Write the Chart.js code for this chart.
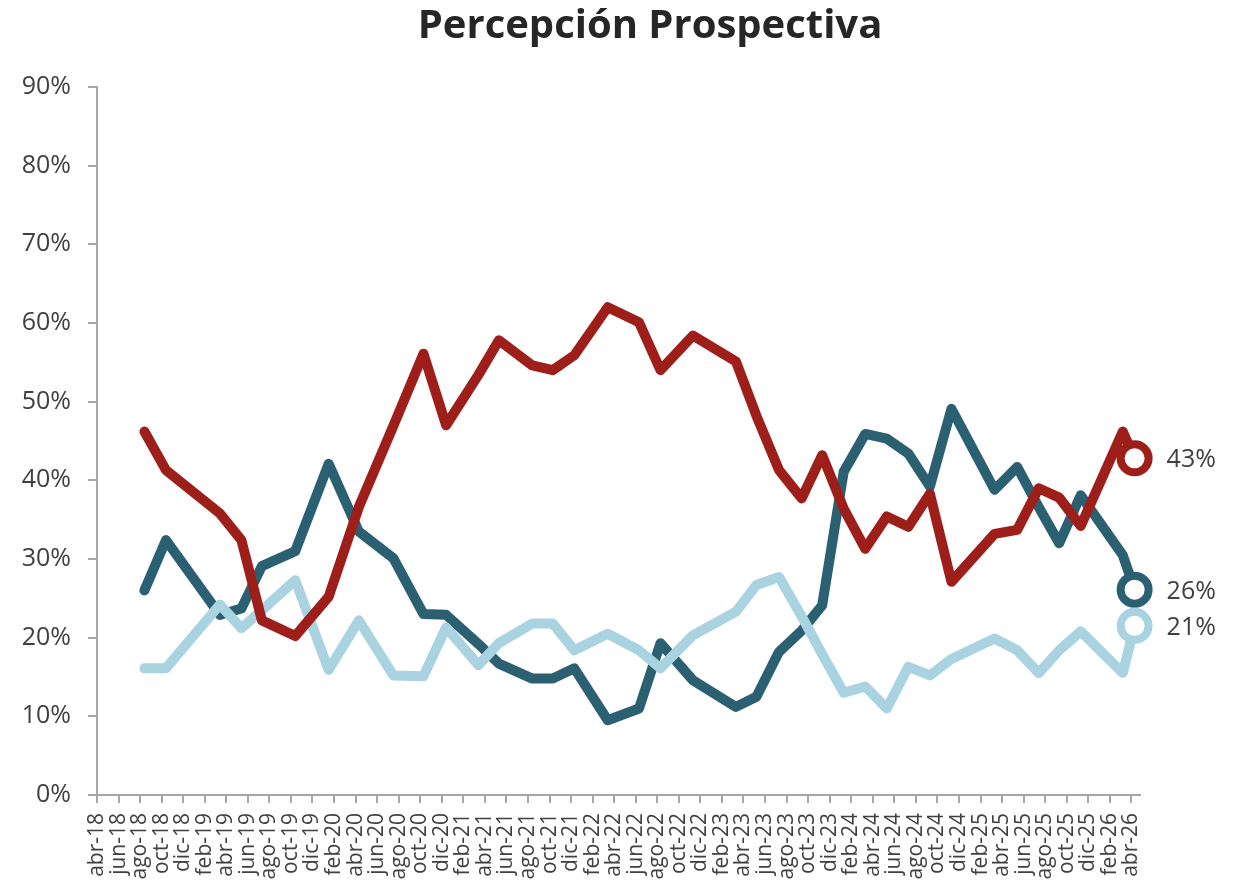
<!DOCTYPE html>
<html>
<head>
<meta charset="utf-8">
<script src="https://cdn.jsdelivr.net/npm/chart.js@4/dist/chart.umd.min.js"></script>
<style>
  html, body { margin: 0; padding: 0; background: #fff; }
  #chart { display: block; }
</style>
</head>
<body>
<canvas id="chart" width="1244" height="886"></canvas>
<script>
// x = months since abr-18 (surveys are not evenly spaced)
var surveyMonths = [4.4, 6.4, 11.4, 13.4, 15.3, 18.4, 21.5, 24.3, 27.5, 30.3, 32.4, 35.4, 37.3, 40.4, 42.3, 44.3,
  47.4, 50.3, 52.3, 55.3, 59.3, 61.2, 63.3, 65.4, 67.3, 69.3, 71.3, 73.3, 75.3, 77.3, 79.3, 83.3, 85.4, 87.4,
  89.3, 91.3, 95.2, 96.3];

var redValues = [46.2, 41.3, 35.8, 32.4, 22.2, 20.2, 25.2, 36.6, 46.9, 56.1, 47.0, 53.4, 57.8, 54.6, 54.0, 55.9,
  62.0, 60.1, 54.0, 58.4, 55.1, 48.2, 41.3, 37.7, 43.2, 36.4, 31.3, 35.4, 34.1, 38.3, 27.1, 33.2, 33.7, 39.0,
  37.8, 34.2, 46.2, 42.8];

var darkValues = [26.0, 32.4, 22.9, 23.7, 29.1, 31.0, 42.1, 33.5, 30.1, 23.0, 22.9, 19.2, 16.7, 14.8, 14.8, 16.1,
  9.5, 11.0, 19.3, 14.6, 11.2, 12.5, 18.2, 20.9, 24.1, 41.1, 45.9, 45.3, 43.4, 39.2, 49.1, 38.8, 41.7, 36.6,
  32.0, 38.1, 30.5, 26.1];

var lightValues = [16.1, 16.1, 24.2, 21.2, 23.5, 27.3, 15.9, 22.2, 15.2, 15.1, 21.3, 16.5, 19.3, 21.8, 21.8, 18.4,
  20.5, 18.4, 16.1, 20.3, 23.3, 26.7, 27.7, 22.7, 17.9, 13.0, 13.8, 11.0, 16.3, 15.2, 17.3, 19.9, 18.4, 15.5,
  18.4, 20.8, 15.5, 21.5];

var endLabels = ['43%', '21%', '26%'];

var xLabels = ['abr-18', 'jun-18', 'ago-18', 'oct-18', 'dic-18', 'feb-19', 'abr-19', 'jun-19', 'ago-19', 'oct-19',
  'dic-19', 'feb-20', 'abr-20', 'jun-20', 'ago-20', 'oct-20', 'dic-20', 'feb-21', 'abr-21', 'jun-21', 'ago-21',
  'oct-21', 'dic-21', 'feb-22', 'abr-22', 'jun-22', 'ago-22', 'oct-22', 'dic-22', 'feb-23', 'abr-23', 'jun-23',
  'ago-23', 'oct-23', 'dic-23', 'feb-24', 'abr-24', 'jun-24', 'ago-24', 'oct-24', 'dic-24', 'feb-25', 'abr-25',
  'jun-25', 'ago-25', 'oct-25', 'dic-25', 'feb-26', 'abr-26'];

var chartTitle = 'Percepción Prospectiva';

var fontFamily = '"Open Sans", "Noto Sans", sans-serif';
var axisColor = '#a6a6a6';
var textColor = '#404040';

function toPoints(values) {
  return values.map(function (v, i) {
    return { x: surveyMonths[i], y: v };
  });
}

function makeDataset(values, color) {
  return {
    data: toPoints(values),
    borderColor: color,
    borderWidth: 10,
    borderJoinStyle: 'round',
    borderCapStyle: 'round',
    tension: 0,
    clip: false,
    pointRadius: function (c) { return c.dataIndex === values.length - 1 ? 14 : 0; },
    pointBorderWidth: 8,
    pointBorderColor: color,
    pointBackgroundColor: '#ffffff',
    pointHoverRadius: 0
  };
}

// draws the value next to the last point of each line, plus the title
var labelPlugin = {
  id: 'endLabels',
  afterDatasetsDraw: function (chart) {
    var ctx = chart.ctx;
    ctx.save();
    chart.data.datasets.forEach(function (ds, i) {
      var meta = chart.getDatasetMeta(i);
      var pt = meta.data[meta.data.length - 1];
      ctx.font = '25px ' + fontFamily;
      ctx.fillStyle = textColor;
      ctx.textBaseline = 'middle';
      ctx.textAlign = 'left';
      ctx.fillText(endLabels[i], pt.x + 32, pt.y + 2);
    });
    ctx.font = 'bold 40px ' + fontFamily;
    ctx.fillStyle = '#262626';
    ctx.textAlign = 'center';
    ctx.textBaseline = 'middle';
    ctx.fillText(chartTitle, 650, 27);
    ctx.restore();
  }
};

var ctx = document.getElementById('chart').getContext('2d');
var chart = new Chart(ctx, {
  type: 'line',
  data: {
    datasets: [
      makeDataset(redValues, '#9e1f1a'),
      makeDataset(lightValues, '#a9d3e1'),
      makeDataset(darkValues, '#2b6072')
    ]
  },
  options: {
    responsive: false,
    animation: false,
    layout: { padding: { top: 87, right: 104, bottom: 0, left: 0 } },
    plugins: {
      legend: { display: false },
      tooltip: { enabled: false },
      title: { display: false }
    },
    scales: {
      x: {
        type: 'linear',
        min: 0,
        max: 96.8,
        afterBuildTicks: function (scale) {
          scale.ticks = xLabels.map(function (l, i) { return { value: i * 2 }; });
        },
        afterFit: function (scale) { scale.height = 91; },
        ticks: {
          autoSkip: false,
          minRotation: 90,
          maxRotation: 90,
          padding: 10,
          color: textColor,
          font: { family: fontFamily, size: 21 },
          callback: function (v) { return xLabels[Math.round(v / 2)]; }
        },
        grid: { drawOnChartArea: false, drawTicks: true, tickLength: 8, color: axisColor, lineWidth: 2 },
        border: { display: true, color: axisColor, width: 2 }
      },
      y: {
        min: 0,
        max: 90,
        afterFit: function (scale) { scale.width = 97; },
        ticks: {
          stepSize: 10,
          padding: 17,
          color: textColor,
          font: { family: fontFamily, size: 25 },
          callback: function (v) { return v + '%'; }
        },
        grid: { drawOnChartArea: false, drawTicks: true, tickLength: 9, color: axisColor, lineWidth: 2 },
        border: { display: true, color: axisColor, width: 2 }
      }
    }
  },
  plugins: [labelPlugin]
});
</script>
</body>
</html>
